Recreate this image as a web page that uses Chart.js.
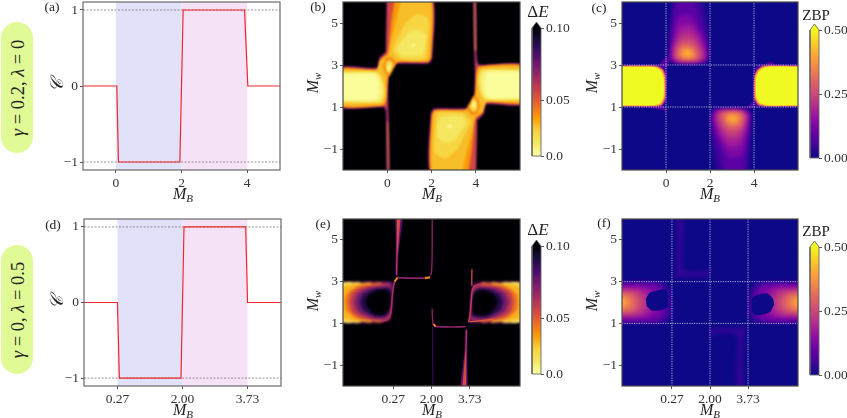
<!DOCTYPE html>
<html>
<head>
<meta charset="utf-8">
<script src="https://cdn.jsdelivr.net/npm/chart.js@4"></script>
<style>
  html, body { margin: 0; padding: 0; background: #fff; overflow: hidden; }
  body { position: relative; width: 847px; height: 418px; font-family: "Liberation Serif", serif; color: #222; }
  canvas { position: absolute; }
  .lab { position: absolute; transform: translate(-50%, -50%); white-space: nowrap; font-size: 16px; z-index: 5; }
  .lab sub { font-size: 11px; vertical-align: -3px; line-height: 0; }
  .small { font-size: 13.5px; }
  .rot { transform: translate(-50%, -50%) rotate(-90deg); }
  .pill { position: absolute; left: 1px; width: 32px; background: #e0fb96; border-radius: 16px; }
</style>
</head>
<body>
<div class="pill" style="top:22px;height:131px"></div>
<div class="pill" style="top:245px;height:129px"></div>
<div class="lab rot" style="left:18px;top:88px;font-size:18.5px"><i>γ</i> = 0.2, <i>λ</i> = 0</div>
<div class="lab rot" style="left:18px;top:310px;font-size:18.5px"><i>γ</i> = 0, <i>λ</i> = 0.5</div>

<div class="lab small" style="left:52px;top:7px">(a)</div>
<div class="lab small" style="left:318px;top:7px">(b)</div>
<div class="lab small" style="left:599px;top:8px">(c)</div>
<div class="lab small" style="left:53px;top:225px">(d)</div>
<div class="lab small" style="left:323px;top:224px">(e)</div>
<div class="lab small" style="left:604px;top:223px">(f)</div>

<div class="lab" style="left:183px;top:194px"><i>M<sub>B</sub></i></div>
<div class="lab" style="left:432px;top:194px"><i>M<sub>B</sub></i></div>
<div class="lab" style="left:710px;top:194px"><i>M<sub>B</sub></i></div>
<div class="lab" style="left:183px;top:410px"><i>M<sub>B</sub></i></div>
<div class="lab" style="left:432px;top:410px"><i>M<sub>B</sub></i></div>
<div class="lab" style="left:710px;top:410px"><i>M<sub>B</sub></i></div>
<div class="lab rot" style="left:313px;top:83px"><i>M<sub>w</sub></i></div>
<div class="lab rot" style="left:592px;top:83px"><i>M<sub>w</sub></i></div>
<div class="lab rot" style="left:313px;top:301px"><i>M<sub>w</sub></i></div>
<div class="lab rot" style="left:592px;top:301px"><i>M<sub>w</sub></i></div>
<div class="lab rot" style="left:57px;top:85px;font-size:18px"><i>𝒞</i></div>
<div class="lab rot" style="left:57px;top:302px;font-size:18px"><i>𝒞</i></div>
<div class="lab" style="left:538px;top:12px;font-size:17px">Δ<i>E</i></div>
<div class="lab" style="left:538px;top:230px;font-size:17px">Δ<i>E</i></div>
<div class="lab" style="left:816px;top:15px;font-size:15px">ZBP</div>
<div class="lab" style="left:816px;top:231px;font-size:15px">ZBP</div>

<script>
// tick positions and labels
const xTicksTop = [0, 2, 4];
const xLabelsTop = ['0', '2', '4'];
const xTicksBottom = [0.27, 2, 3.73];
const xLabelsBottom = ['0.27', '2.00', '3.73'];
const chernTicks = [-1, 0, 1];
const chernLabels = ['\u22121', '0', '1'];
const mwTicks = [-1, 1, 3, 5];
const mwLabels = ['\u22121', '1', '3', '5'];
const energyBarTicks = [0, 0.433, 1];
const energyBarLabels = ['0.0', '0.05', '0.10'];
const zbpBarTicks = [0, 0.5, 1];
const zbpBarLabels = ['0.00', '0.25', '0.50'];

// Chern number curves (a) and (d)
const chernXa = [-1, 0.03, 0.08, 1.95, 2.05, 3.92, 4.02, 5];
const chernXd = [-0.62, 0.27, 0.32, 1.96, 2.04, 3.68, 3.73, 4.62];
const chernY = [0, 0, -1, -1, 1, 1, 0, 0];

// contour layers: [level, [x,y, x,y, ...]] in (M_B, M_w), painted in order
const bLayers = [
  [0.1, [-2.2,-2.2, 6.2,-2.2, 6.2,6.2, -2.2,6.2]],
  [0.08, [-0.02,6.2, 2.04,6.2, 2.04,3.4, 1.9,3.07, 0.45,3.05, 0.2,2.88, 0.07,2.5, 0.04,1.5, 0.07,0.5, 0.1,-2.2, -0.02,-2.2, -0.05,0.7, -0.17,0.98, -2.2,0.98, -2.2,2.88, -0.48,2.88, -0.35,3.35, -0.05,3.65]],
  [0.08, [4.02,-2.2, 1.96,-2.2, 1.96,0.6, 2.1,0.93, 3.55,0.95, 3.8,1.12, 3.93,1.5, 3.96,2.5, 3.93,3.5, 3.9,6.2, 4.02,6.2, 4.05,3.3, 4.17,3.02, 6.2,3.02, 6.2,1.12, 4.48,1.12, 4.35,0.65, 4.05,0.35]],
  [0.055, [0,6.2, 2,6.2, 2,3.35, 1.88,3.12, 0.45,3.1, 0.22,2.95, 0.04,2.45, 0,1.4, 0.04,0.4, 0.07,-2.2, 0.02,-2.2, -0.03,0.8, -0.14,1.03, -2.2,1.03, -2.2,2.83, -0.45,2.83, -0.33,3.3, -0.05,3.6]],
  [0.055, [4,-2.2, 2,-2.2, 2,0.65, 2.12,0.88, 3.55,0.9, 3.78,1.05, 3.96,1.55, 4,2.6, 3.96,3.6, 3.93,6.2, 3.98,6.2, 4.03,3.2, 4.14,2.97, 6.2,2.97, 6.2,1.17, 4.45,1.17, 4.33,0.7, 4.05,0.4]],
  [0.037, [0.35,6.2, 1.97,6.2, 1.97,3.4, 1.85,3.17, 0.5,3.16, 0.25,3, 0.02,2.4, -0.04,1.4, -0.14,1.08, -2.2,1.08, -2.2,2.78, -0.45,2.78, -0.3,3.25, 0.02,3.55, 0.1,4.2, 0.2,5.2]],
  [0.037, [3.65,-2.2, 2.03,-2.2, 2.03,0.6, 2.15,0.83, 3.5,0.84, 3.75,1, 3.98,1.6, 4.04,2.6, 4.14,2.92, 6.2,2.92, 6.2,1.22, 4.45,1.22, 4.3,0.75, 3.98,0.45, 3.9,-0.2, 3.8,-1.2]],
  [0.03, [0.03,-2.2, 0.06,-2.2, 0.03,0.3, 0,0.3]],
  [0.03, [3.97,6.2, 3.94,6.2, 3.97,3.7, 4,3.7]],
  [0.03, [0.65,6.2, 1.93,6.2, 1.93,3.4, 1.8,3.2, 0.55,3.2, 0.25,3.05, -0.02,2.4, -0.08,1.4, -0.2,1.14, -2.2,1.14, -2.2,2.72, -0.5,2.72, -0.3,3.2, 0.05,3.5, 0.15,4, 0.35,4.9, 0.5,5.6]],
  [0.03, [3.35,-2.2, 2.07,-2.2, 2.07,0.6, 2.2,0.8, 3.45,0.8, 3.75,0.95, 4.02,1.6, 4.08,2.6, 4.2,2.86, 6.2,2.86, 6.2,1.28, 4.5,1.28, 4.3,0.8, 3.95,0.5, 3.85,0, 3.65,-0.9, 3.5,-1.6]],
  [0.018, [-2.2,2.67, -0.42,2.67, -0.22,2.3, -0.12,1.8, -0.14,1.5, -0.3,1.22, -2.2,1.22]],
  [0.018, [6.2,1.33, 4.42,1.33, 4.22,1.7, 4.12,2.2, 4.14,2.5, 4.3,2.78, 6.2,2.78]],
  [0.024, [0.8,4.97, 1.33,5.44, 1.86,5.2, 1.83,4.17, 1.71,3.3, 0.58,3.3, 0.25,3.7, 0.5,4.33]],
  [0.024, [3.2,-0.97, 2.67,-1.44, 2.14,-1.2, 2.17,-0.17, 2.29,0.7, 3.42,0.7, 3.75,0.3, 3.5,-0.33]],
  [0.009, [-2.2,2.6, -0.5,2.6, -0.3,2.3, -0.22,1.8, -0.35,1.3, -2.2,1.3]],
  [0.009, [6.2,1.4, 4.5,1.4, 4.3,1.7, 4.22,2.2, 4.35,2.7, 6.2,2.7]],
  [0.015, [0.9,4.5, 1.3,4.7, 1.75,4.4, 1.6,3.5, 0.65,3.42, 0.42,3.8]],
  [0.015, [3.1,-0.5, 2.7,-0.7, 2.25,-0.4, 2.4,0.5, 3.35,0.58, 3.58,0.2]],
  [0.003, [-2.2,2.55, -0.6,2.55, -0.4,2.2, -0.4,1.7, -0.5,1.35, -2.2,1.35]],
  [0.003, [6.2,1.45, 4.6,1.45, 4.4,1.8, 4.4,2.3, 4.5,2.65, 6.2,2.65]],
  [0.004, [1.05,3.95, 1.2,4, 1.3,3.9, 1.15,3.85]],
  [0.004, [2.95,0.05, 2.8,0, 2.7,0.1, 2.85,0.15]],
  [0.04, [-0.2,2.95, -0.05,3.35, 0.15,3.4, 0.4,3.1, 0.25,2.75, 0.08,2.45, -0.1,2.6]],
  [0.04, [4.2,1.05, 4.05,0.65, 3.85,0.6, 3.6,0.9, 3.75,1.25, 3.92,1.55, 4.1,1.4]],
  [0.02, [-0.08,2.95, 0,3.2, 0.15,3.2, 0.27,3.02, 0.15,2.75, 0.05,2.6, -0.04,2.75]],
  [0.02, [4.08,1.05, 4,0.8, 3.85,0.8, 3.73,0.98, 3.85,1.25, 3.95,1.4, 4.04,1.25]],
  [0.005, [0.02,2.9, 0.08,3, 0.16,2.95, 0.12,2.7, 0.05,2.68]],
  [0.005, [3.98,1.1, 3.92,1, 3.84,1.05, 3.88,1.3, 3.95,1.32]]
];

const cBlocks = [
  [0, [-2.2,-2.2, 6.2,-2.2, 6.2,6.2, -2.2,6.2]],
  [0.07, [-0.3,3, 0,3.4, 0.25,3.3, 0.1,3.05, -0.03,2.65, -0.15,2.8]],
  [0.07, [-0.75,1, -0.05,1, 0,0.6, -0.1,0.85, -0.6,0.92]],
  [0.07, [4.4,3, 4.8,3.15, 5,3]],
  [0.07, [3.7,1, 4.05,1.35, 4,1, 3.6,0.9]],
  [0.06, [-2.2,3, -0.45,3, -0.1,2.95, 0.05,2.6, 0.02,1.3, -0.2,1, -2.2,1]],
  [0.25, [-2.2,2.97, -0.4,2.97, -0.12,2.8, -0.02,2.5, -0.02,1.4, -0.17,1.08, -0.4,1.02, -2.2,1.02]],
  [0.4, [-2.2,2.94, -0.5,2.93, -0.18,2.77, -0.06,2.45, -0.06,1.45, -0.22,1.12, -0.5,1.05, -2.2,1.05]],
  [0.5, [-2.2,2.91, -0.55,2.9, -0.24,2.74, -0.11,2.4, -0.11,1.5, -0.27,1.18, -0.55,1.08, -2.2,1.08]],
  [0.06, [6.2,3, 4.2,3, 3.98,2.7, 3.95,1.4, 4.1,1.05, 4.45,1, 6.2,1]],
  [0.25, [6.2,2.97, 4.4,2.97, 4.13,2.77, 4.01,2.4, 4.01,1.4, 4.18,1.08, 4.5,1.02, 6.2,1.02]],
  [0.4, [6.2,2.94, 4.5,2.94, 4.18,2.75, 4.05,2.45, 4.05,1.45, 4.2,1.15, 4.5,1.05, 6.2,1.05]],
  [0.5, [6.2,2.91, 4.55,2.91, 4.24,2.72, 4.1,2.4, 4.1,1.5, 4.24,1.2, 4.55,1.08, 6.2,1.08]]
];

const cBlobs = [
  [0.04, [0.3,6.3, 1.55,6.3, 1.85,5.2, 1.97,4, 1.97,3.4, 1.85,3.12, 0.4,3.1, 0.15,3.25, 0.12,4, 0.2,5]],
  [0.08, [0.45,6.3, 1.2,6.3, 1.55,5.2, 1.85,4.2, 1.9,3.4, 1.78,3.15, 0.45,3.13, 0.2,3.3, 0.22,4, 0.32,5]],
  [0.13, [0.55,5.3, 1.05,5.4, 1.4,4.9, 1.75,4.1, 1.85,3.4, 1.72,3.17, 0.5,3.15, 0.24,3.32, 0.3,4, 0.4,4.8]],
  [0.18, [0.6,4.8, 1.1,4.9, 1.5,4.4, 1.75,3.7, 1.78,3.35, 1.65,3.2, 0.55,3.18, 0.3,3.35, 0.35,4]],
  [0.23, [0.65,4.4, 1.1,4.5, 1.45,4.1, 1.68,3.55, 1.6,3.25, 0.6,3.2, 0.36,3.38, 0.42,3.9]],
  [0.28, [0.7,4.1, 1.1,4.15, 1.4,3.85, 1.55,3.45, 1.45,3.25, 0.65,3.25, 0.45,3.42, 0.5,3.8]],
  [0.33, [0.75,3.9, 1.1,3.9, 1.33,3.65, 1.38,3.4, 1.2,3.3, 0.75,3.3, 0.55,3.45, 0.58,3.7]],
  [0.4, [0.8,3.75, 1.1,3.75, 1.25,3.5, 1.1,3.36, 0.85,3.36, 0.68,3.5]],
  [0.04, [3.7,-2.3, 2.45,-2.3, 2.15,-1.2, 2.03,0, 2.03,0.6, 2.15,0.88, 3.6,0.9, 3.85,0.75, 3.88,0, 3.8,-1]],
  [0.08, [3.55,-2.3, 2.8,-2.3, 2.45,-1.2, 2.15,-0.2, 2.1,0.6, 2.22,0.85, 3.55,0.87, 3.8,0.7, 3.78,0, 3.68,-1]],
  [0.13, [3.45,-1.3, 2.95,-1.4, 2.6,-0.9, 2.25,-0.1, 2.15,0.6, 2.28,0.83, 3.5,0.85, 3.76,0.68, 3.7,0, 3.6,-0.8]],
  [0.18, [3.4,-0.8, 2.9,-0.9, 2.5,-0.4, 2.25,0.3, 2.22,0.65, 2.35,0.8, 3.45,0.82, 3.7,0.65, 3.65,0]],
  [0.23, [3.35,-0.4, 2.9,-0.5, 2.55,-0.1, 2.32,0.45, 2.4,0.75, 3.4,0.8, 3.64,0.62, 3.58,0.1]],
  [0.28, [3.3,-0.1, 2.9,-0.15, 2.6,0.15, 2.45,0.55, 2.55,0.75, 3.35,0.75, 3.55,0.58, 3.5,0.2]],
  [0.33, [3.25,0.1, 2.9,0.1, 2.67,0.35, 2.62,0.6, 2.8,0.7, 3.25,0.7, 3.45,0.55, 3.42,0.3]],
  [0.4, [3.2,0.25, 2.9,0.25, 2.75,0.5, 2.9,0.64, 3.15,0.64, 3.32,0.5]]
];

const eBands = [
  [0.1, [-2.2,-2.2, 6.2,-2.2, 6.2,6.2, -2.2,6.2]],
  // left band
  [0.08, [-2.3,2.97, 0.3,2.97, 0.27,2.7, 0.22,2.2, 0.15,1.45, 0,1.12, -0.4,1.03, -2.3,1.03]],
  [0.012, [-2.3,2.91, -1.6,2.91, -1.6,1.09, -2.3,1.09]],
  [0.02, [-2.3,2.8, -1.85,2.92, -1.2,2.92, -1.2,1.08, -1.85,1.08, -2.3,1.2]],
  [0.032, [-2.3,2.68, -1.85,2.82, -1.2,2.9, -0.7,2.92, -0.7,1.08, -1.2,1.1, -1.85,1.18, -2.3,1.32]],
  [0.045, [-1.92,2, -1.85,2.4, -1.4,2.76, -0.8,2.88, -0.25,2.92, -0.25,1.08, -0.8,1.12, -1.4,1.24, -1.85,1.6]],
  [0.06, [-1.72,2, -1.6,2.45, -1.2,2.72, -0.5,2.84, 0.1,2.9, 0.12,1.2, -0.5,1.16, -1.2,1.28, -1.6,1.55]],
  [0.075, [-1.5,2, -1.35,2.42, -0.9,2.68, -0.2,2.78, 0.15,2.82, 0.2,2.6, 0.17,2.2, 0.1,1.5, -0.05,1.25, -0.4,1.22, -0.9,1.32, -1.35,1.58]],
  [0.09, [-1.25,2, -1.1,2.38, -0.65,2.62, -0.1,2.68, 0.15,2.65, 0.17,2.2, 0.08,1.55, -0.1,1.35, -0.5,1.32, -1.1,1.62]],
  [0.1, [-1,2.02, -0.85,2.35, -0.45,2.58, -0.05,2.6, 0.18,2.4, 0.15,2, 0.05,1.6, -0.15,1.42, -0.55,1.42, -0.85,1.7]],
  // right band
  [0.08, [6.3,2.97, 4.2,2.97, 3.87,2.88, 3.78,2.2, 3.73,1.45, 3.7,1.05, 4.4,1.03, 6.3,1.03]],
  [0.012, [6.3,2.91, 5.6,2.91, 5.6,1.09, 6.3,1.09]],
  [0.02, [6.3,2.8, 5.85,2.92, 5.2,2.92, 5.2,1.08, 5.85,1.08, 6.3,1.2]],
  [0.032, [6.3,2.68, 5.85,2.82, 5.2,2.9, 4.7,2.92, 4.7,1.08, 5.2,1.1, 5.85,1.18, 6.3,1.32]],
  [0.045, [5.92,2, 5.85,2.4, 5.4,2.76, 4.8,2.88, 4.25,2.92, 4.25,1.08, 4.8,1.12, 5.4,1.24, 5.85,1.6]],
  [0.06, [5.72,2, 5.6,2.45, 5.2,2.72, 4.5,2.84, 3.98,2.8, 3.84,2.2, 3.8,1.45, 3.78,1.14, 4.5,1.16, 5.2,1.28, 5.6,1.55]],
  [0.075, [5.5,2, 5.35,2.42, 4.9,2.68, 4.2,2.74, 3.95,2.6, 3.84,2.2, 3.8,1.45, 3.9,1.18, 4.4,1.2, 4.9,1.32, 5.35,1.58]],
  [0.09, [5.25,2, 5.1,2.38, 4.65,2.62, 4.1,2.65, 3.9,2.4, 3.82,1.9, 3.85,1.35, 4.5,1.3, 5.1,1.62]],
  [0.1, [5,2.02, 4.85,2.35, 4.5,2.55, 4.05,2.55, 3.88,2.3, 3.85,1.9, 3.9,1.42, 4.5,1.4, 4.85,1.7]]
];

const eStrips = [
  [0.08, [0.36,6.3, 0.7,6.3, 0.58,5, 0.5,4.2, 0.47,3.3, 0.38,3.3, 0.38,4.2, 0.38,5]],
  [0.055, [0.43,6.3, 0.6,6.3, 0.52,5, 0.46,4.2, 0.44,3.3, 0.41,3.3, 0.42,4.2, 0.43,5]],
  [0.08, [3.64,-2.3, 3.3,-2.3, 3.42,-1, 3.5,-0.2, 3.53,0.7, 3.62,0.7, 3.62,-0.2, 3.62,-1]],
  [0.055, [3.57,-2.3, 3.4,-2.3, 3.48,-1, 3.54,-0.2, 3.56,0.7, 3.59,0.7, 3.58,-0.2, 3.57,-1]]
];

// thin lines: [level, width, [x,y, ...]]
const eLines = [
  [0.065, 1.6, [0.33,3, 0.27,2.7, 0.22,2.2, 0.16,1.5, 0.03,1.2, -0.3,1.08]],
  [0.07, 1.6, [0.42,3.2, 0.8,3.17, 1.5,3.17, 1.8,3.17, 1.95,3.25]],
  [0.04, 2, [1.7,3.18, 1.93,3.2]],
  [0.04, 2, [0.33,3, 0.46,3.18]],
  [0.07, 1.3, [2.03,6.2, 2.03,4.5, 2.01,3.6, 1.97,3.3]],
  [0.07, 1.6, [2.15,0.85, 2.6,0.83, 3.2,0.83, 3.55,0.85]],
  [0.04, 2, [2.08,0.98, 2.18,0.85]],
  [0.085, 1, [2.07,-2.2, 2.05,-0.5, 2.05,0.85]],
  [0.07, 1.3, [2.03,1.7, 2.04,1.3, 2.07,0.95]],
  [0.06, 1.6, [3.67,1.05, 3.73,1.3, 3.78,1.8, 3.83,2.5, 3.95,2.8, 4.3,2.9]],
  [0.05, 1.2, [3.72,1.08, 4.2,1.12, 4.8,1.2]],
  [0.06, 1.5, [3.82,2.8, 3.82,3.2, 3.83,3.6]]
];

const fBands = [
  [0, [-2.2,-2.2, 6.2,-2.2, 6.2,6.2, -2.2,6.2]],
  [0.035, [0.42,6.3, 0.78,6.3, 0.75,3.7, 0.9,3.5, 1.75,3.5, 1.95,3.7, 1.98,3.3, 1.9,3.22, 0.6,3.22, 0.35,3.1, 0.45,3.6, 0.5,5]],
  [0.035, [3.58,-2.3, 3.22,-2.3, 3.25,0.3, 3.1,0.5, 2.25,0.5, 2.05,0.3, 2.02,0.7, 2.1,0.78, 3.4,0.78, 3.65,0.9, 3.55,0.4, 3.5,-1]],
  [0.04, [-2.4,2.97, -0.6,2.97, -0.1,2.95, 0.2,2.6, 0.25,1.4, 0,1.05, -2.4,1.03]],
  [0.08, [-2.4,2.92, -0.4,2.9, -0.05,2.6, 0.08,2, 0,1.4, -0.3,1.1, -2.4,1.08]],
  [0.12, [-2.4,2.84, -0.5,2.8, -0.2,2.5, -0.1,2, -0.2,1.5, -0.5,1.2, -2.4,1.16]],
  [0.17, [-2.4,2.74, -0.9,2.68, -0.55,2.4, -0.45,2, -0.55,1.6, -0.9,1.32, -2.4,1.26]],
  [0.22, [-2.4,2.64, -1.15,2.57, -0.9,2.3, -0.8,2, -0.9,1.7, -1.15,1.43, -2.4,1.36]],
  [0.27, [-2.4,2.55, -1.4,2.46, -1.2,2.2, -1.12,2, -1.2,1.8, -1.4,1.54, -2.4,1.45]],
  [0.32, [-2.4,2.45, -1.6,2.36, -1.45,2.15, -1.4,2, -1.45,1.85, -1.6,1.64, -2.4,1.55]],
  [0.37, [-2.4,2.35, -1.85,2.25, -1.7,2.1, -1.65,2, -1.7,1.9, -1.85,1.75, -2.4,1.65]],
  [0.41, [-2.4,2.22, -2,2.15, -1.88,2, -2,1.85, -2.4,1.78]],
  [0.04, [6.4,2.97, 4.6,2.97, 4.1,2.95, 3.8,2.6, 3.75,1.4, 4,1.05, 6.4,1.03]],
  [0.08, [6.4,2.92, 4.4,2.9, 4.05,2.6, 3.92,2, 4,1.4, 4.3,1.1, 6.4,1.08]],
  [0.12, [6.4,2.84, 4.5,2.8, 4.2,2.5, 4.1,2, 4.2,1.5, 4.5,1.2, 6.4,1.16]],
  [0.17, [6.4,2.74, 4.9,2.68, 4.55,2.4, 4.45,2, 4.55,1.6, 4.9,1.32, 6.4,1.26]],
  [0.22, [6.4,2.64, 5.15,2.57, 4.9,2.3, 4.8,2, 4.9,1.7, 5.15,1.43, 6.4,1.36]],
  [0.27, [6.4,2.55, 5.4,2.46, 5.2,2.2, 5.12,2, 5.2,1.8, 5.4,1.54, 6.4,1.45]],
  [0.32, [6.4,2.45, 5.6,2.36, 5.45,2.15, 5.4,2, 5.45,1.85, 5.6,1.64, 6.4,1.55]],
  [0.37, [6.4,2.35, 5.85,2.25, 5.7,2.1, 5.65,2, 5.7,1.9, 5.85,1.75, 6.4,1.65]],
  [0.41, [6.4,2.22, 6,2.15, 5.88,2, 6,1.85, 6.4,1.78]]
];

const fHoles = [
  [0, [-0.92,2.15, -0.75,2.45, -0.45,2.56, 0,2.64, 0.1,2.3, 0.07,1.8, -0.2,1.64, -0.65,1.62, -0.87,1.82]],
  [0, [4.92,1.9, 4.75,1.56, 4.45,1.44, 4,1.41, 3.9,1.7, 3.92,2.2, 4.2,2.38, 4.65,2.42, 4.87,2.18]]
];

// colormaps, equally spaced stops
const infernoStops = ['#000004','#1b0c41','#4a0c6b','#781c6d','#a52c60','#cf4446','#ed6925','#fb9b06','#f7d13d','#f5e861','#fcffa4'];
const plasmaStops = ['#0d0887','#41049d','#6a00a8','#8f0da4','#b12a90','#cc4778','#e16462','#f1844b','#fca636','#fcce25','#f0f921'];

function hexMix(a, b, t) {
  const ca = [1, 3, 5].map(i => parseInt(a.substr(i, 2), 16));
  const cb = [1, 3, 5].map(i => parseInt(b.substr(i, 2), 16));
  const c = ca.map((v, i) => Math.round(v + (cb[i] - v) * t));
  return 'rgb(' + c.join(',') + ')';
}

function mapColor(stops, t) {
  t = Math.min(1, Math.max(0, t));
  const p = t * (stops.length - 1);
  const i = Math.min(stops.length - 2, Math.floor(p));
  return hexMix(stops[i], stops[i + 1], p - i);
}

const energyColor = v => mapColor(infernoStops, 1 - Math.pow(v / 0.1, 1.2));
const zbpColor = v => mapColor(plasmaStops, v / 0.5);

function toPoints(flat) {
  const pts = [];
  for (let i = 0; i < flat.length; i += 2) pts.push({ x: flat[i], y: flat[i + 1] });
  return pts;
}

function fromXY(xs, ys) {
  return xs.map((x, i) => ({ x: x, y: ys[i] }));
}

function layerSets(layers, color, blur) {
  return layers.map(([v, flat]) => ({
    data: toPoints(flat), showLine: true, fill: 'shape', backgroundColor: color(v),
    borderWidth: 0, pointRadius: 0, tension: 0.2, blur: blur
  }));
}

function lineSets(lines, color, blur) {
  return lines.map(([v, w, flat]) => ({
    data: toPoints(flat), showLine: true, fill: false, borderColor: color(v),
    borderWidth: w, pointRadius: 0, tension: 0.25, blur: blur
  }));
}

function guide(x0, y0, x1, y1, color, width, dash) {
  return {
    data: [{ x: x0, y: y0 }, { x: x1, y: y1 }], showLine: true, fill: false,
    borderColor: color, borderWidth: width, borderDash: dash, pointRadius: 0
  };
}

function setBlur(chart, index) {
  const ds = chart.data.datasets[index];
  chart.ctx.filter = ds && ds.blur ? 'blur(' + ds.blur + 'px)' : 'none';
}

// datasets are drawn last to first, and the filler runs before this plugin,
// so the blur of the next layer has to be set when the previous one ends
const framePlugin = {
  id: 'frame',
  beforeDatasetsDraw(chart) {
    setBlur(chart, chart.data.datasets.length - 1);
  },
  afterDatasetDraw(chart, args) {
    setBlur(chart, args.index - 1);
  },
  afterDatasetsDraw(chart, args, opts) {
    chart.ctx.filter = 'none';
    if (!opts.color) return;
    const a = chart.chartArea;
    chart.ctx.save();
    chart.ctx.strokeStyle = opts.color;
    chart.ctx.lineWidth = 1.2;
    chart.ctx.strokeRect(a.left, a.top, a.right - a.left, a.bottom - a.top);
    chart.ctx.restore();
  }
};

const tickFont = { family: 'Liberation Serif', size: 13.5 };

function axis(min, max, ticks, labels, position) {
  return {
    type: 'linear', position: position, min: min, max: max,
    border: { display: false },
    grid: { drawOnChartArea: false, drawTicks: true, tickLength: 3, color: '#555', lineWidth: 1 },
    ticks: {
      autoSkip: false, maxRotation: 0, minRotation: 0, padding: 2, color: '#333', font: tickFont,
      callback: (v, i) => labels[i]
    },
    afterBuildTicks: a => { a.ticks = ticks.map(v => ({ value: v })); }
  };
}

function makeChart(rect, datasets, xScale, yScale, margins, frame) {
  const cv = document.createElement('canvas');
  const w = rect.r - rect.l + margins.left + margins.right;
  const h = rect.b - rect.t + margins.top + margins.bottom;
  cv.width = Math.round(w);
  cv.height = Math.round(h);
  cv.style.left = (rect.l - margins.left) + 'px';
  cv.style.top = (rect.t - margins.top) + 'px';
  cv.style.width = cv.width + 'px';
  cv.style.height = cv.height + 'px';
  document.body.appendChild(cv);
  yScale.afterFit = s => { s.width = yScale.position === 'left' ? margins.left : margins.right; };
  if (xScale.display !== false) xScale.afterFit = s => { s.height = margins.bottom; };
  return new Chart(cv, {
    type: 'scatter',
    data: { datasets: datasets.slice().reverse() },
    plugins: [framePlugin],
    options: {
      responsive: false, animation: false, events: [],
      layout: {
        padding: {
          top: margins.top,
          right: yScale.position === 'left' ? margins.right : 0,
          left: yScale.position === 'left' ? 0 : margins.left,
          bottom: xScale.display === false ? margins.bottom : 0
        }
      },
      plugins: { legend: { display: false }, tooltip: { enabled: false }, frame: frame },
      scales: { x: xScale, y: yScale }
    }
  });
}

const plotMargins = { left: 45, right: 12, top: 12, bottom: 36 };
const barMargins = { left: 6, right: 40, top: 12, bottom: 12 };

function chernPanel(rect, xMin, xMax, xTicks, xLabels, xs, spans) {
  const sets = [
    { data: toPoints([spans[0],-1.3, spans[1],-1.3, spans[1],1.3, spans[0],1.3]), showLine: true, fill: 'shape', backgroundColor: '#e1e1fa', borderWidth: 0, pointRadius: 0 },
    { data: toPoints([spans[1],-1.3, spans[2],-1.3, spans[2],1.3, spans[1],1.3]), showLine: true, fill: 'shape', backgroundColor: '#f6e2f6', borderWidth: 0, pointRadius: 0 },
    guide(xMin, 1, xMax, 1, '#777', 0.8, [2, 1.5]),
    guide(xMin, -1, xMax, -1, '#777', 0.8, [2, 1.5]),
    { data: fromXY(xs, chernY), showLine: true, fill: false, borderColor: '#f0282d', borderWidth: 1.2, pointRadius: 0 }
  ];
  const yRange = 1.105;
  return makeChart(rect, sets, axis(xMin, xMax, xTicks, xLabels, 'bottom'),
    axis(-yRange, yRange, chernTicks, chernLabels, 'left'), plotMargins, { color: '#6a6a6a' });
}

function heatPanel(rect, sets, xTicks, xLabels) {
  return makeChart(rect, sets, axis(-2, 6, xTicks, xLabels, 'bottom'),
    axis(-2, 6, mwTicks, mwLabels, 'left'), plotMargins, { color: '#4a4a4a' });
}

function whiteGrid(xTicks) {
  const sets = xTicks.map(x => guide(x, -2, x, 6, 'rgba(255,255,255,0.75)', 0.9, [1.2, 1.2]));
  [1, 3].forEach(y => sets.push(guide(-2, y, 6, y, 'rgba(255,255,255,0.75)', 0.9, [1.2, 1.2])));
  return sets;
}

function colorBar(rect, stops, ticks, labels) {
  const top = 1 + 6 / (rect.b - rect.t - 6);
  const ds = {
    data: toPoints([0,0, 1,0, 1,1, 0.5,top, 0,1, 0,0]), showLine: true, fill: 'shape', pointRadius: 0,
    borderColor: '#666', borderWidth: 0.9, clip: 4, backgroundColor: stops[0]
  };
  const yScale = axis(0, top, ticks, labels, 'right');
  const xScale = { type: 'linear', display: false, min: 0, max: 1 };
  const chart = makeChart(rect, [ds], xScale, yScale, barMargins, {});
  const y = chart.scales.y;
  const g = chart.ctx.createLinearGradient(0, y.getPixelForValue(0), 0, y.getPixelForValue(1));
  stops.forEach((c, i) => g.addColorStop(i / (stops.length - 1), c));
  ds.backgroundColor = g;
  chart.update();
  return chart;
}

const energyBarStops = infernoStops.slice().reverse();

chernPanel({ l: 83.3, r: 280.7, t: 1.5, b: 169.5 }, -1, 5, xTicksTop, xLabelsTop, chernXa, [0, 2, 4]);
heatPanel({ l: 343, r: 520, t: 1.5, b: 169.5 }, layerSets(bLayers, energyColor, 0.8), xTicksTop, xLabelsTop);
heatPanel({ l: 622.3, r: 798.7, t: 1.5, b: 169.5 },
  layerSets(cBlocks, zbpColor, 0.7).concat(layerSets(cBlobs, zbpColor, 2), whiteGrid(xTicksTop)), xTicksTop, xLabelsTop);
chernPanel({ l: 83.5, r: 280.5, t: 219, b: 386 }, -0.62, 4.62, xTicksBottom, xLabelsBottom, chernXd, [0.27, 2, 3.73]);
heatPanel({ l: 343, r: 520, t: 219, b: 386 },
  layerSets(eBands, energyColor, 1.4).concat(layerSets(eStrips, energyColor, 0.6), lineSets(eLines, energyColor, 0.5)), xTicksBottom, xLabelsBottom);
heatPanel({ l: 622.3, r: 798.7, t: 219, b: 386 },
  layerSets(fBands, zbpColor, 2.2).concat(layerSets(fHoles, zbpColor, 0.5), whiteGrid(xTicksBottom)), xTicksBottom, xLabelsBottom);

colorBar({ l: 532, r: 541, t: 22, b: 156 }, energyBarStops, energyBarTicks, energyBarLabels);
colorBar({ l: 810, r: 819.3, t: 24, b: 158 }, plasmaStops, zbpBarTicks, zbpBarLabels);
colorBar({ l: 532, r: 541, t: 240, b: 374 }, energyBarStops, energyBarTicks, energyBarLabels);
colorBar({ l: 810, r: 819.3, t: 241, b: 375 }, plasmaStops, zbpBarTicks, zbpBarLabels);
</script>
</body>
</html>
